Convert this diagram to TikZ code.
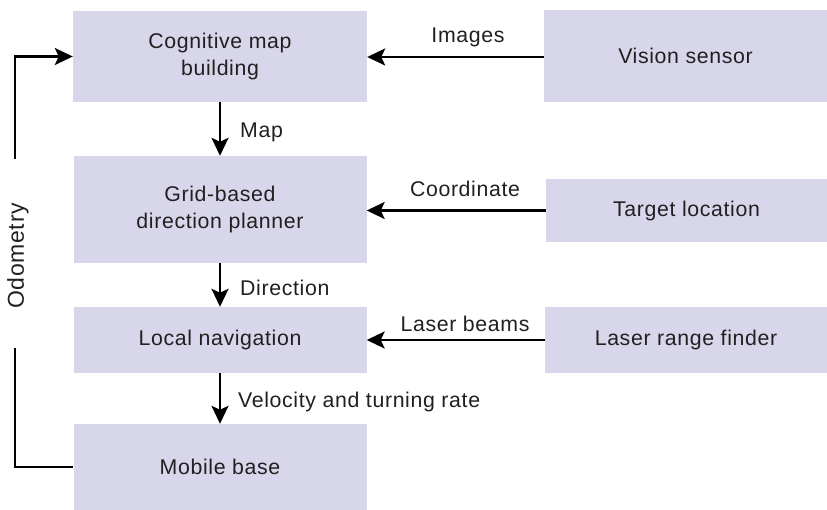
\documentclass[tikz,border=0pt]{standalone}
\usepackage{fontspec}
\setmainfont{Liberation Sans}[LetterSpace=3]
\usetikzlibrary{arrows.meta}
\definecolor{boxfill}{RGB}{216,214,234}
\definecolor{ink}{RGB}{35,31,32}
\tikzset{
  block/.style={fill=boxfill, draw=none, inner sep=0pt, align=center,
    text=ink, font=\fontsize{21.3}{26.5}\selectfont},
  flow/.style={line width=2.4pt, draw=black,
    -{Stealth[length=18pt,width=17pt,inset=4pt]}},
  plain/.style={line width=2.4pt, draw=black},
  tag/.style={text=ink, font=\fontsize{21.3}{26.5}\selectfont, inner sep=0pt}
}
\begin{document}
\begin{tikzpicture}[x=1pt,y=-1pt]
  \useasboundingbox (0,0) rectangle (827,510);

  % left column: processing stages
  \node[block, minimum width=294pt, minimum height=91pt] (cog) at (220,56.5)
    {Cognitive map\\building};
  \node[block, minimum width=293pt, minimum height=107pt] (grid) at (220,209.5)
    {Grid-based\\direction planner};
  \node[block, minimum width=293pt, minimum height=66pt] (loc) at (220,340)
    {Local navigation};
  \node[block, minimum width=293pt, minimum height=86pt] (mob) at (220,467)
    {Mobile base};

  % right column: sensors and inputs
  \node[block, minimum width=283pt, minimum height=92pt] (vis) at (685.5,56)
    {Vision sensor};
  \node[block, minimum width=281pt, minimum height=63pt] (tgt) at (686.5,210.5)
    {Target location};
  \node[block, minimum width=282pt, minimum height=66pt] (las) at (686,340)
    {Laser range finder};

  % sensor inputs
  \draw[flow] (vis.west |- 0,57) -- (cog.east |- 0,57);
  \node[tag] (timg) at (468,37) {Images};
  \draw[flow] (tgt.west) -- (grid.east |- tgt.west);
  \node[tag] (tcoord) at (465,189) {Coordinate};
  \draw[flow] (las.west) -- (loc.east);
  \node[tag] (tlaser) at (465,324) {Laser beams};

  % downward flow
  \draw[flow] (cog.south) -- (grid.north);
  \node[tag, anchor=west] (tmap) at (240,132) {Map};
  \draw[flow] (grid.south) -- (loc.north);
  \node[tag, anchor=west] (tdir) at (240,288) {Direction};
  \draw[flow] (loc.south) -- (mob.north);
  \node[tag, anchor=west] (tvel) at (238,402) {Velocity and turning rate};

  % odometry feedback loop
  \coordinate (odolow) at (15,348);
  \coordinate (odohigh) at (15,159);
  \draw[plain] (mob.west) -| (odolow);
  \draw[flow] (odohigh) |- (cog.west);
  \node[tag, rotate=90, font=\fontsize{23}{27}\selectfont] (todo) at (18,256) {Odometry};
\end{tikzpicture}
\end{document}
